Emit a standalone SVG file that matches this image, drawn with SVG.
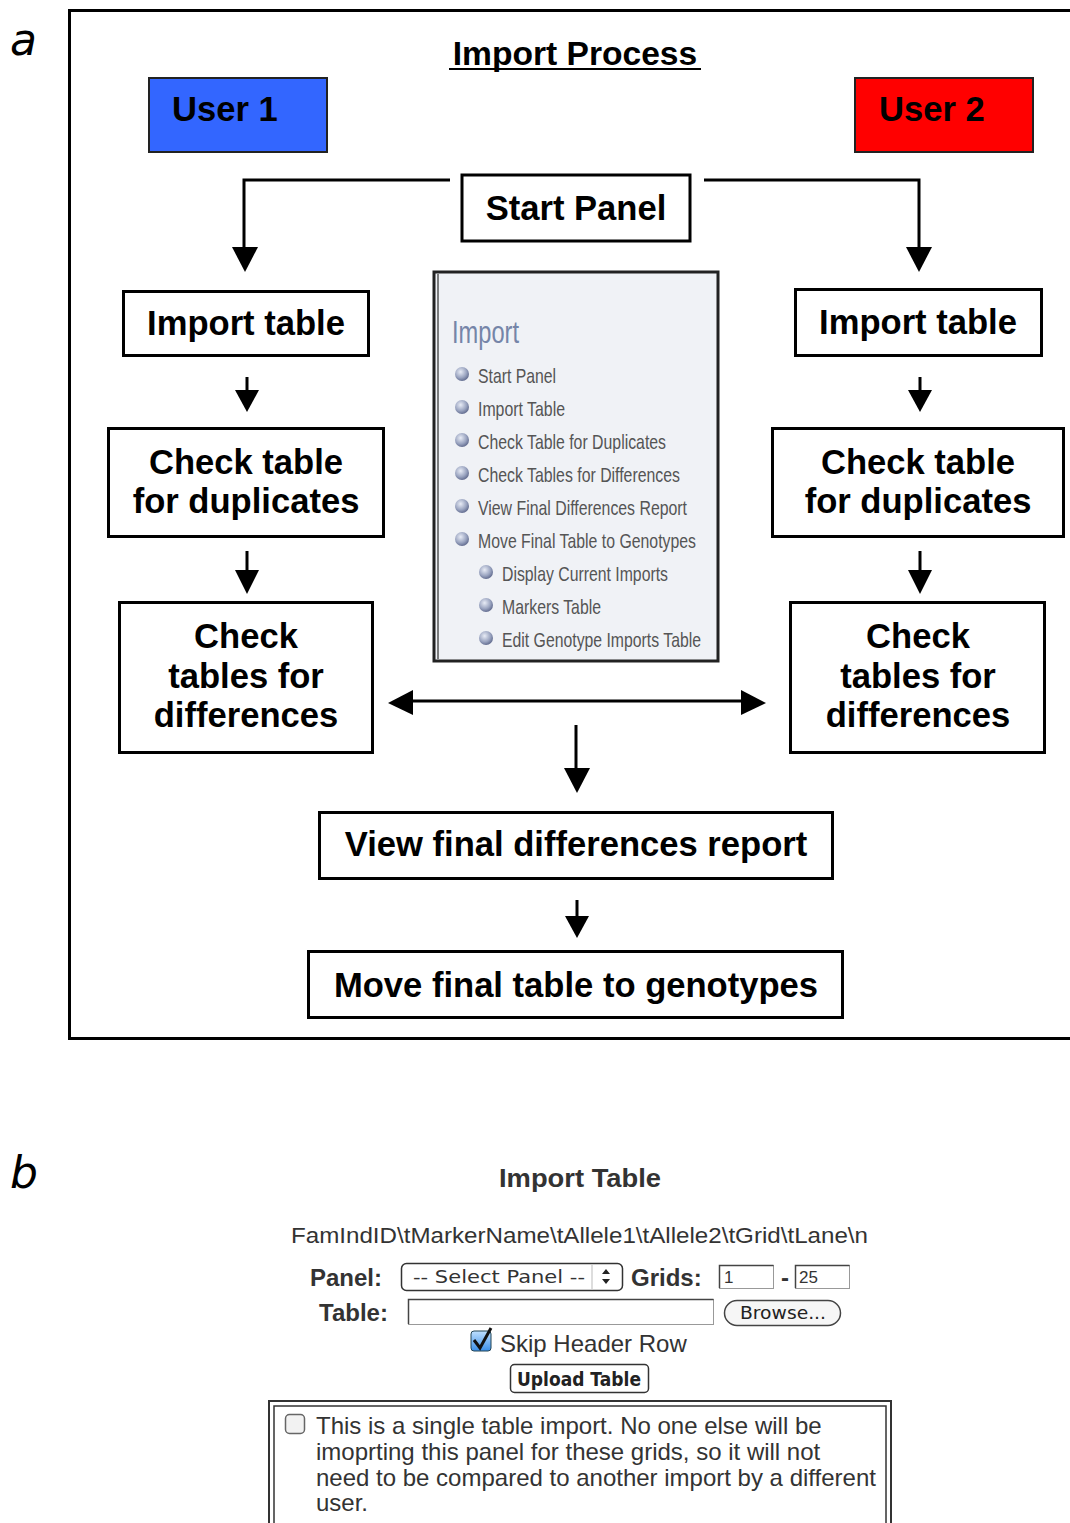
<svg xmlns="http://www.w3.org/2000/svg" width="1070" height="1523" viewBox="0 0 1070 1523">
<defs>
<style>
.box{fill:#fff;stroke:#000;stroke-width:3}
.t{font-family:"Liberation Sans",Arial,sans-serif;font-weight:bold;font-size:34.6px;fill:#000;text-anchor:middle}
.ln{stroke:#000;stroke-width:3;fill:none}
.mi{font-family:"Liberation Sans",Arial,sans-serif;font-size:21px;fill:#555}
.ui{font-family:"Liberation Sans",Arial,sans-serif;fill:#333}
.lab{font-family:"Liberation Sans",Arial,sans-serif;font-weight:bold;font-size:24px;fill:#333}
</style>
<radialGradient id="ball" cx="0.4" cy="0.35" r="0.7">
<stop offset="0" stop-color="#e8ecf6"/>
<stop offset="0.6" stop-color="#9aa4c0"/>
<stop offset="1" stop-color="#5a6488"/>
</radialGradient>
<linearGradient id="chk" x1="0" y1="0" x2="0" y2="1">
<stop offset="0" stop-color="#bfe0ff"/>
<stop offset="1" stop-color="#3a8ee8"/>
</linearGradient>
</defs>
<rect width="1070" height="1523" fill="#fff"/>

<text x="10" y="55" font-family="DejaVu Sans, sans-serif" font-style="italic" font-size="44" fill="#000">a</text>
<text x="10" y="1188" font-family="DejaVu Sans, sans-serif" font-style="italic" font-size="44" fill="#000">b</text>

<rect x="69.5" y="10.5" width="1010" height="1028" fill="none" stroke="#000" stroke-width="3"/>

<g id="title">
<text x="575" y="65" class="t" font-size="33.6" style="font-size:33.6px">Import Process</text>
<line x1="449" y1="69" x2="701" y2="69" stroke="#000" stroke-width="2"/>
</g>

<g id="user1">
<rect x="149" y="78" width="178" height="74" fill="#3366ff" stroke="#222" stroke-width="2"/>
<text x="172" y="121" class="t" style="text-anchor:start">User 1</text>
</g>
<g id="user2">
<rect x="855" y="78" width="178" height="74" fill="#ff0000" stroke="#222" stroke-width="2"/>
<text x="879" y="121" class="t" style="text-anchor:start">User 2</text>
</g>

<g id="startPanel">
<rect x="462" y="175" width="228" height="66" class="box"/>
<text x="576" y="220" class="t">Start Panel</text>
</g>

<g id="import1">
<rect x="123.5" y="291.5" width="245" height="64" class="box"/>
<text x="246" y="335" class="t">Import table</text>
</g>
<g id="import2">
<rect x="795.5" y="289.5" width="246" height="66" class="box"/>
<text x="918" y="334" class="t">Import table</text>
</g>

<g id="dup1">
<rect x="108.5" y="428.5" width="275" height="108" class="box"/>
<text x="246" y="474" class="t">Check table</text>
<text x="246" y="513" class="t">for duplicates</text>
</g>
<g id="dup2">
<rect x="772.5" y="428.5" width="291" height="108" class="box"/>
<text x="918" y="474" class="t">Check table</text>
<text x="918" y="513" class="t">for duplicates</text>
</g>

<g id="diff1">
<rect x="119.5" y="602.5" width="253" height="150" class="box"/>
<text x="246" y="648" class="t">Check</text>
<text x="246" y="688" class="t">tables for</text>
<text x="246" y="727" class="t">differences</text>
</g>
<g id="diff2">
<rect x="790.5" y="602.5" width="254" height="150" class="box"/>
<text x="918" y="648" class="t">Check</text>
<text x="918" y="688" class="t">tables for</text>
<text x="918" y="727" class="t">differences</text>
</g>

<g id="report">
<rect x="319.5" y="812.5" width="513" height="66" class="box"/>
<text x="576" y="856" class="t">View final differences report</text>
</g>
<g id="move">
<rect x="308.5" y="951.5" width="534" height="66" class="box"/>
<text x="576" y="997" class="t">Move final table to genotypes</text>
</g>

<g id="menu">
<rect x="434" y="272" width="284" height="389" fill="#f0f2f6" stroke="#222" stroke-width="3"/>
<line x1="438" y1="274" x2="438" y2="659" stroke="#555" stroke-width="1.5"/>
<text x="452" y="343" font-family="Liberation Sans, Arial, sans-serif" font-size="31" fill="#7585a8" textLength="67" lengthAdjust="spacingAndGlyphs">Import</text>
<g>
<circle cx="462" cy="374" r="7" fill="url(#ball)"/>
<circle cx="462" cy="407" r="7" fill="url(#ball)"/>
<circle cx="462" cy="440" r="7" fill="url(#ball)"/>
<circle cx="462" cy="473" r="7" fill="url(#ball)"/>
<circle cx="462" cy="506" r="7" fill="url(#ball)"/>
<circle cx="462" cy="539" r="7" fill="url(#ball)"/>
<circle cx="486" cy="572" r="7" fill="url(#ball)"/>
<circle cx="486" cy="605" r="7" fill="url(#ball)"/>
<circle cx="486" cy="638" r="7" fill="url(#ball)"/>
</g>
<text x="478" y="383" class="mi" textLength="78" lengthAdjust="spacingAndGlyphs">Start Panel</text>
<text x="478" y="416" class="mi" textLength="87" lengthAdjust="spacingAndGlyphs">Import Table</text>
<text x="478" y="449" class="mi" textLength="188" lengthAdjust="spacingAndGlyphs">Check Table for Duplicates</text>
<text x="478" y="482" class="mi" textLength="202" lengthAdjust="spacingAndGlyphs">Check Tables for Differences</text>
<text x="478" y="515" class="mi" textLength="209" lengthAdjust="spacingAndGlyphs">View Final Differences Report</text>
<text x="478" y="548" class="mi" textLength="218" lengthAdjust="spacingAndGlyphs">Move Final Table to Genotypes</text>
<text x="502" y="581" class="mi" textLength="166" lengthAdjust="spacingAndGlyphs">Display Current Imports</text>
<text x="502" y="614" class="mi" textLength="99" lengthAdjust="spacingAndGlyphs">Markers Table</text>
<text x="502" y="647" class="mi" textLength="199" lengthAdjust="spacingAndGlyphs">Edit Genotype Imports Table</text>
</g>

<g id="connectors">
<g fill="#000">
<path d="M450,180 H244 V248" class="ln"/>
<path d="M232,247 L258,247 L245,272 z"/>
<path d="M704,180 H919 V248" class="ln"/>
<path d="M906,247 L932,247 L919,272 z"/>
<line x1="247" y1="377" x2="247" y2="392" class="ln"/>
<path d="M235,390 L259,390 L247,412 z"/>
<line x1="920" y1="377" x2="920" y2="392" class="ln"/>
<path d="M908,390 L932,390 L920,412 z"/>
<line x1="247" y1="551" x2="247" y2="572" class="ln"/>
<path d="M235,570 L259,570 L247,594 z"/>
<line x1="920" y1="551" x2="920" y2="572" class="ln"/>
<path d="M908,570 L932,570 L920,594 z"/>
<line x1="410" y1="701" x2="744" y2="701" class="ln"/>
<path d="M388,703 L413,690 L413,715 z"/>
<path d="M766,703 L741,690 L741,715 z"/>
<line x1="576" y1="725" x2="576" y2="770" class="ln"/>
<path d="M564,768 L590,768 L577,793 z"/>
<line x1="577" y1="900" x2="577" y2="918" class="ln"/>
<path d="M565,916 L589,916 L577,938 z"/>
</g>
</g>

<g id="formB">
<text x="580" y="1187" class="lab" text-anchor="middle" font-size="26" style="font-size:26px" textLength="162" lengthAdjust="spacingAndGlyphs">Import Table</text>
<text x="291" y="1243" class="ui" font-size="22" textLength="577" lengthAdjust="spacingAndGlyphs">FamIndID\tMarkerName\tAllele1\tAllele2\tGrid\tLane\n</text>
<text x="310" y="1286" class="lab">Panel:</text>
<rect x="401.5" y="1263.5" width="221" height="27" rx="5" fill="#fff" stroke="#333" stroke-width="1.5"/>
<line x1="592" y1="1265" x2="592" y2="1289" stroke="#bbb" stroke-width="1"/>
<text x="413" y="1283" font-family="DejaVu Sans, sans-serif" font-size="18" fill="#333" textLength="172" lengthAdjust="spacingAndGlyphs">-- Select Panel --</text>
<path d="M602,1274 L610,1274 L606,1269 z M602,1279 L610,1279 L606,1284 z" fill="#222"/>
<text x="631" y="1286" class="lab">Grids:</text>
<rect x="719.5" y="1265.5" width="54" height="23" fill="#fff" stroke="#999" stroke-width="1"/>
<path d="M719.5,1288 V1265.5 H773.5" fill="none" stroke="#444" stroke-width="1.5"/>
<text x="724" y="1283" class="ui" font-size="17">1</text>
<text x="781" y="1286" class="lab">-</text>
<rect x="795.5" y="1265.5" width="54" height="23" fill="#fff" stroke="#999" stroke-width="1"/>
<path d="M795.5,1288 V1265.5 H849.5" fill="none" stroke="#444" stroke-width="1.5"/>
<text x="799" y="1283" class="ui" font-size="17">25</text>
<text x="319" y="1321" class="lab">Table:</text>
<rect x="408.5" y="1299.5" width="305" height="25" fill="#fff" stroke="#999" stroke-width="1"/>
<path d="M408.5,1324 V1299.5 H713.5" fill="none" stroke="#444" stroke-width="1.5"/>
<rect x="724.5" y="1300.5" width="116" height="25" rx="12.5" fill="#f6f6f6" stroke="#444" stroke-width="1.5"/>
<text x="740" y="1319" font-family="DejaVu Sans, sans-serif" font-size="18" fill="#222" textLength="86" lengthAdjust="spacingAndGlyphs">Browse...</text>
<rect x="471" y="1331" width="20" height="20" rx="3" fill="url(#chk)" stroke="#245" stroke-width="1"/>
<path d="M474,1340 L480,1348 L491,1328" fill="none" stroke="#111" stroke-width="3"/>
<text x="500" y="1352" class="ui" font-size="24">Skip Header Row</text>
<rect x="510.5" y="1364.5" width="138" height="28" rx="4" fill="#fff" stroke="#333" stroke-width="1.5"/>
<text x="517" y="1386" font-family="DejaVu Sans, sans-serif" font-weight="bold" font-size="19" fill="#222" textLength="124" lengthAdjust="spacingAndGlyphs">Upload Table</text>
<rect x="269" y="1401" width="622" height="130" fill="#fff" stroke="#333" stroke-width="2"/>
<rect x="274" y="1406" width="612" height="125" fill="none" stroke="#333" stroke-width="1.5"/>
<rect x="285.5" y="1414.5" width="19" height="19" rx="4" fill="#f2f2f2" stroke="#666" stroke-width="1.5"/>
<text x="316" y="1434" class="ui" font-size="24" fill="#222">This is a single table import. No one else will be</text>
<text x="316" y="1460" class="ui" font-size="24" fill="#222">imoprting this panel for these grids, so it will not</text>
<text x="316" y="1486" class="ui" font-size="24" fill="#222">need to be compared to another import by a different</text>
<text x="316" y="1511" class="ui" font-size="24" fill="#222">user.</text>
</g>
</svg>
